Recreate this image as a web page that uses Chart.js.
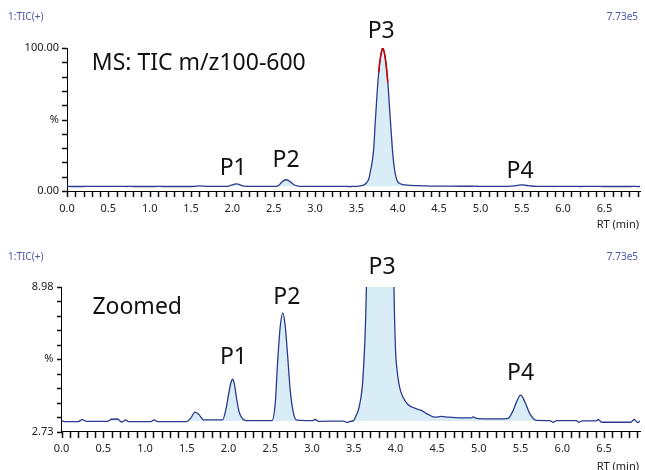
<!DOCTYPE html>
<html>
<head>
<meta charset="utf-8">
<script src="https://cdn.jsdelivr.net/npm/chart.js@4.4.1/dist/chart.umd.min.js"></script>
<style>
  html, body { margin: 0; padding: 0; background: #fff; }
  #wrap { position: relative; width: 645px; height: 470px; }
  canvas { position: absolute; left: 0; }
  #topChart { top: 0; }
  #bottomChart { top: 235px; }
</style>
</head>
<body>
<div id="wrap">
  <canvas id="topChart" width="645" height="235"></canvas>
  <canvas id="bottomChart" width="645" height="235"></canvas>
</div>
<script>
// TIC trace: retention time (min) and relative intensity (% of 7.73e5)
const rt = [
  0.00, 0.05, 0.20, 0.25, 0.30, 0.55, 0.60, 0.67, 0.72, 0.77, 0.80,
  1.07, 1.11, 1.15, 1.50, 1.55, 1.60, 1.65, 1.70, 1.93, 1.97,
  2.00, 2.03, 2.05, 2.07, 2.10, 2.13, 2.17, 2.21, 2.52, 2.56,
  2.59, 2.62, 2.65, 2.68, 2.71, 2.74, 2.78, 2.82, 3.00, 3.04,
  3.08, 3.38, 3.42, 3.46, 3.50, 3.52, 3.56, 3.60, 3.62, 3.64,
  3.655, 3.67, 3.69, 3.71, 3.73, 3.75, 3.77, 3.79, 3.81, 3.82,
  3.84, 3.86, 3.88, 3.90, 3.92, 3.94, 3.96, 3.98, 4.00, 4.02,
  4.05, 4.09, 4.15, 4.23, 4.31, 4.39, 4.47, 4.55, 4.63, 4.79,
  4.91, 4.93, 4.97, 5.10, 5.30, 5.35, 5.41, 5.45, 5.50, 5.55,
  5.61, 5.69, 5.85, 5.89, 5.93, 6.17, 6.20, 6.24, 6.40, 6.43,
  6.47, 6.82, 6.86, 6.90, 6.93
];
const intensity = [
  3.20, 3.16, 3.16, 3.24, 3.17, 3.17, 3.26, 3.27, 3.14, 3.23, 3.16,
  3.16, 3.23, 3.16, 3.16, 3.32, 3.57, 3.45, 3.23, 3.23, 3.70,
  4.30, 4.85, 4.99, 4.80, 4.10, 3.55, 3.28, 3.20, 3.20, 3.93,
  5.80, 7.26, 7.86, 7.30, 5.95, 4.51, 3.50, 3.22, 3.20, 3.25,
  3.17, 3.18, 3.12, 3.17, 3.20, 3.35, 3.71, 4.55, 5.60, 7.20,
  9.5, 14, 20, 30, 50, 68, 83, 93, 99, 100,
  96, 88, 76, 59, 42, 26, 15.5, 9.5, 6.4, 5.38,
  4.65, 4.22, 3.90, 3.74, 3.64, 3.47, 3.35, 3.38, 3.35, 3.32,
  3.32, 3.36, 3.30, 3.28, 3.28, 3.30, 3.64, 4.00, 4.30, 4.02,
  3.50, 3.21, 3.20, 3.13, 3.20, 3.20, 3.13, 3.19, 3.19, 3.25,
  3.13, 3.13, 3.25, 3.12, 3.18
];
// part of the P3 apex drawn in red in the full-scale trace
const redRange = [3.77, 3.88];

// axis ticks
const xMax = 6.93;
const xMinorCount = 70;   // a tick every 0.1 min
const xLabels = ['0.0', '0.5', '1.0', '1.5', '2.0', '2.5', '3.0', '3.5', '4.0', '4.5', '5.0', '5.5', '6.0', '6.5'];
const topYTicks = [0, 10, 20, 30, 40, 50, 60, 70, 80, 90, 100];
const topYLabels = ['0.00', '', '', '', '', '%', '', '', '', '', '100.00'];
const bottomYTicks = [2.73, 3.355, 3.98, 4.605, 5.23, 5.855, 6.48, 7.105, 7.73, 8.355, 8.98];
const bottomYLabels = ['2.73', '', '', '', '', '%', '', '', '', '', '8.98'];

// peak labels (placed in data units)
const peakNames = ['P1', 'P2', 'P3', 'P4'];
const topPeakRt = [2.01, 2.65, 3.80, 5.48];
const topPeakY = [11.2, 16.8, 106.8, 9.1];
const bottomPeakRt = [2.06, 2.70, 3.84, 5.50];
const bottomPeakY = [5.64, 8.26, 9.56, 4.95];

const LINE = '#2b3a8f';
const FILL = 'rgb(217,237,246)';
const HEAD = '#4a59a7';
const FONT = '"Noto Sans", "Open Sans", sans-serif';

const labelPlugin = {
    id: 'chromLabels',
    afterDraw(chart, args, o) {
        const ctx = chart.ctx;
        const xs = chart.scales.x;
        const ys = chart.scales.y;
        const bottom = Math.round(chart.chartArea.bottom);
        const left = Math.round(chart.chartArea.left);
        ctx.save();
        // tick marks outside the axes
        ctx.fillStyle = '#111';
        for (let i = 0; i < xMinorCount; i++) {
            const px = Math.round(xs.getPixelForValue(i / 10));
            ctx.fillRect(px - 0.25, bottom, 1.5, 6);
        }
        o.yTicks.forEach(v => {
            const py = Math.round(ys.getPixelForValue(v));
            ctx.fillRect(left - 5, py - 0.25, 5, 1.5);
        });
        // header texts
        ctx.font = '10px ' + FONT;
        ctx.fillStyle = HEAD;
        ctx.textBaseline = 'middle';
        ctx.textAlign = 'left';
        ctx.fillText('1:TIC(+)', 8, o.headerY);
        ctx.textAlign = 'right';
        ctx.fillText('7.73e5', 638, o.headerY);
        // axis title
        ctx.font = '11px ' + FONT;
        ctx.fillStyle = '#222';
        ctx.fillText('RT (min)', 639, o.titleY);
        // big annotations
        ctx.font = '23px ' + FONT;
        ctx.fillStyle = '#111';
        ctx.textBaseline = 'alphabetic';
        ctx.textAlign = 'left';
        ctx.fillText(o.note, xs.getPixelForValue(o.noteRt), ys.getPixelForValue(o.noteY));
        ctx.textAlign = 'center';
        peakNames.forEach((name, i) => {
            ctx.fillText(name, xs.getPixelForValue(o.peakRt[i]), ys.getPixelForValue(o.peakY[i]));
        });
        ctx.restore();
    }
};

function makeChart(id, cfg) {
    const points = rt.map((t, i) => ({ x: t, y: intensity[i] }));
    const datasets = [{
        data: points,
        order: 2,
        borderColor: LINE,
        borderWidth: 1.3,
        pointRadius: 0,
        cubicInterpolationMode: 'monotone',
        fill: { target: { value: 3.18 }, above: FILL, below: 'rgba(0,0,0,0)' }
    }];
    if (cfg.red) {
        // same trace again on top, only the apex segments visible
        datasets.push({
            data: points,
            order: 1,
            borderColor: '#d00000',
            borderWidth: 1.5,
            pointRadius: 0,
            cubicInterpolationMode: 'monotone',
            fill: false,
            segment: {
                borderColor: c => (c.p0.parsed.x >= redRange[0] && c.p1.parsed.x <= redRange[1]) ? '#d00000' : 'rgba(0,0,0,0)'
            }
        });
    }
    return new Chart(document.getElementById(id), {
        type: 'line',
        data: { datasets },
        options: {
            responsive: false,
            animation: false,
            events: [],
            layout: { padding: { top: cfg.padTop, right: 5, bottom: 0, left: 0 } },
            plugins: {
                legend: { display: false },
                tooltip: { enabled: false },
                chromLabels: Object.assign({ yTicks: cfg.yTicks }, cfg.labels)
            },
            scales: {
                x: {
                    type: 'linear',
                    min: 0,
                    max: xMax,
                    afterFit: s => { s.height = cfg.xAxisHeight; },
                    afterBuildTicks: s => { s.ticks = xLabels.map(l => ({ value: parseFloat(l) })); },
                    grid: { display: false, drawTicks: true, tickLength: 5 },
                    border: { display: true, color: '#000', width: 1 },
                    ticks: {
                        autoSkip: false,
                        maxRotation: 0,
                        minRotation: 0,
                        padding: 6,
                        color: '#222',
                        font: { size: 11, family: FONT },
                        callback: (v, i) => xLabels[i]
                    }
                },
                y: {
                    min: cfg.yTicks[0],
                    max: cfg.yTicks[cfg.yTicks.length - 1],
                    afterFit: s => { s.width = cfg.yAxisWidth; },
                    afterBuildTicks: s => { s.ticks = cfg.yTicks.map(v => ({ value: v })); },
                    grid: { display: false, drawTicks: true, tickLength: 4 },
                    border: { display: true, color: '#000', width: 1 },
                    ticks: {
                        autoSkip: false,
                        padding: 4,
                        color: '#222',
                        font: { size: 11, family: FONT },
                        callback: (v, i) => cfg.yLabels[i]
                    }
                }
            }
        },
        plugins: [labelPlugin]
    });
}

makeChart('topChart', {
    red: true,
    padTop: 48,
    xAxisHeight: 44,
    yAxisWidth: 67,
    yTicks: topYTicks,
    yLabels: topYLabels,
    labels: {
        headerY: 17, titleY: 225,
        note: 'MS: TIC m/z100-600', noteRt: 0.30, noteY: 84.6,
        peakRt: topPeakRt, peakY: topPeakY
    }
});

makeChart('bottomChart', {
    red: false,
    padTop: 52,
    xAxisHeight: 38.5,
    yAxisWidth: 61.5,
    yTicks: bottomYTicks,
    yLabels: bottomYLabels,
    labels: {
        headerY: 22, titleY: 232,
        note: 'Zoomed', noteRt: 0.37, noteY: 7.80,
        peakRt: bottomPeakRt, peakY: bottomPeakY
    }
});
</script>
</body>
</html>
